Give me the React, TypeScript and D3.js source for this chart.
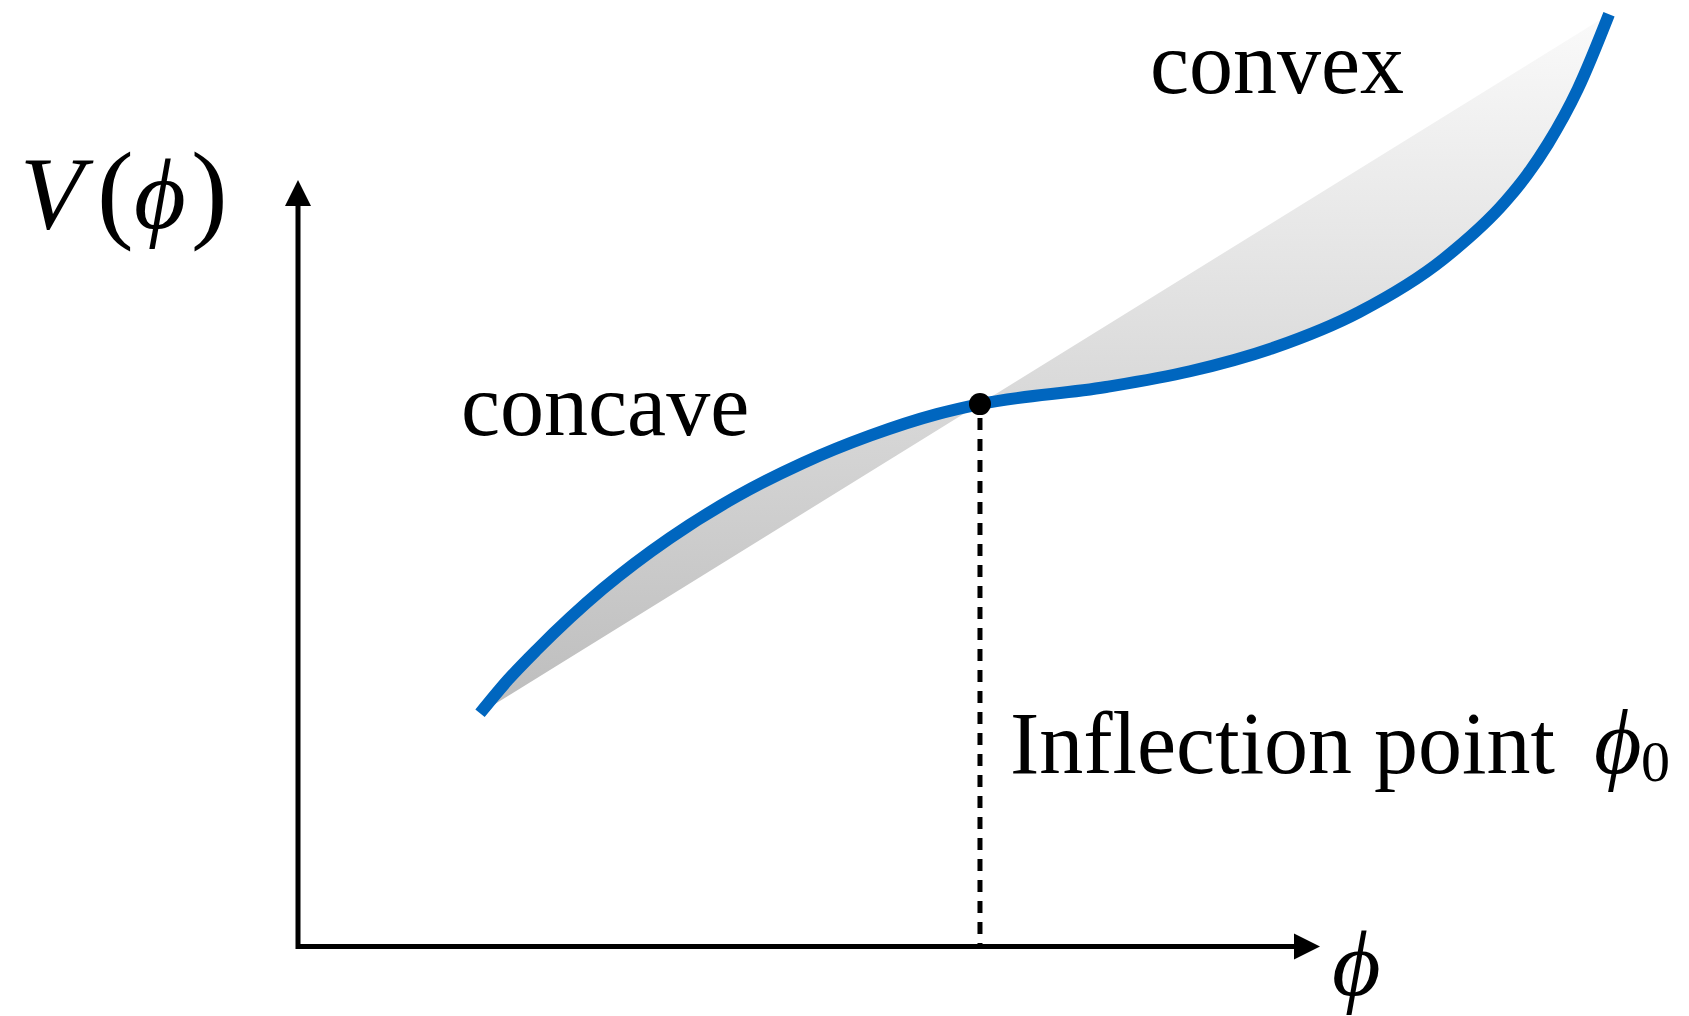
import React from "react";
import * as d3 from "d3";

// Potential curve V(phi) (axis units: phi 0..10, V 0..10)
const curvePhi = [1.781, 2.055, 2.339, 2.984, 3.64, 4.295, 4.941, 5.597, 6.252, 6.673, 7.906, 8.728, 9.56, 10.382, 11.204, 11.82, 12.025, 12.231, 12.524, 12.828];
const curveV = [3.042, 3.479, 3.873, 4.668, 5.33, 5.873, 6.308, 6.664, 6.945, 7.076, 7.299, 7.505, 7.818, 8.277, 8.965, 9.727, 10.065, 10.473, 11.19, 12.162];
const inflectionPhi = [6.673];
const inflectionV = [7.076];
const axisPhiDomain = [0, 10];
const axisVDomain = [0, 10];
const labels = ["concave", "convex", "Inflection point"];

const W = 1689;
const H = 1016;

export default function App() {
  const x = d3.scaleLinear().domain(axisPhiDomain).range([298, 1320]);
  const y = d3.scaleLinear().domain(axisVDomain).range([946.5, 180]);

  const pts: [number, number][] = curvePhi.map((p, i) => [p, curveV[i]]);
  const line = d3
    .line<[number, number]>()
    .x((d) => x(d[0]))
    .y((d) => y(d[1]))
    .curve(d3.curveMonotoneX);
  const curvePath = line(pts) || "";
  const fillPath = curvePath + "Z";

  const x0 = x(axisPhiDomain[0]);
  const x1 = x(axisPhiDomain[1]);
  const y0 = y(axisVDomain[0]);
  const y1 = y(axisVDomain[1]);
  const ah = 26;
  const aw = 13;

  const ix = x(inflectionPhi[0]);
  const iy = y(inflectionV[0]);

  const serif = "'Liberation Serif', 'Times New Roman', Times, serif";
  const phiFont = "'Liberation Serif', 'DejaVu Serif', serif";

  const startY = y(curveV[0]);
  const endY = y(curveV[curveV.length - 1]);

  return (
    <svg
      width={W}
      height={H}
      viewBox={`0 0 ${W} ${H}`}
      style={{ position: "absolute", left: 0, top: 0, display: "block", background: "#fff" }}
    >
      <defs>
        <linearGradient id="gfill" gradientUnits="userSpaceOnUse" x1="0" y1={endY} x2="0" y2={startY}>
          <stop offset="0" stopColor="#fafafa" />
          <stop offset="1" stopColor="#bdbdbd" />
        </linearGradient>
      </defs>
      <rect x={0} y={0} width={W} height={H} fill="#fff" />

      {/* shaded region between chord and curve */}
      <path d={fillPath} fill="url(#gfill)" stroke="none" />

      {/* axes */}
      <path
        d={`M${x0},${y1 + ah - 1} V${y0} H${x1 - ah + 1}`}
        fill="none"
        stroke="#000"
        strokeWidth={5}
        strokeLinejoin="miter"
        strokeLinecap="square"
      />
      <polygon points={`${x0},${y1} ${x0 - aw},${y1 + ah} ${x0 + aw},${y1 + ah}`} fill="#000" />
      <polygon points={`${x1},${y0} ${x1 - ah},${y0 - aw} ${x1 - ah},${y0 + aw}`} fill="#000" />

      {/* dotted drop line */}
      <line x1={ix} y1={iy + 14} x2={ix} y2={y0} stroke="#000" strokeWidth={5} strokeDasharray="12 9" />

      {/* curve */}
      <path d={curvePath} fill="none" stroke="#0066BF" strokeWidth={12} strokeLinecap="butt" />

      {/* inflection point */}
      <circle cx={ix} cy={iy} r={11} fill="#000" />

      {/* labels */}
      <text x={20} y={228} fontFamily={serif} fontStyle="italic" fontSize={104} fill="#000">V</text>
      <text x={97} y={228} fontFamily={serif} fontSize={110} fill="#000">(</text>
      <text x={134} y={228} fontFamily={phiFont} fontStyle="italic" fontSize={100} fill="#000">ϕ</text>
      <text x={191} y={228} fontFamily={serif} fontSize={110} fill="#000">)</text>

      <text x={461} y={435} fontFamily={serif} fontSize={88} fill="#000">{labels[0]}</text>
      <text x={1150} y={93} fontFamily={serif} fontSize={88} fill="#000">{labels[1]}</text>
      <text x={1010} y={773} fontFamily={serif} fontSize={88} fill="#000">{labels[2]}</text>
      <text x={1594} y={773} fontFamily={phiFont} fontStyle="italic" fontSize={92} fill="#000">ϕ</text>
      <text x={1641} y={781} fontFamily={serif} fontSize={58} fill="#000">0</text>

      <text x={1332} y={995} fontFamily={phiFont} fontStyle="italic" fontSize={94} fill="#000">ϕ</text>
    </svg>
  );
}
